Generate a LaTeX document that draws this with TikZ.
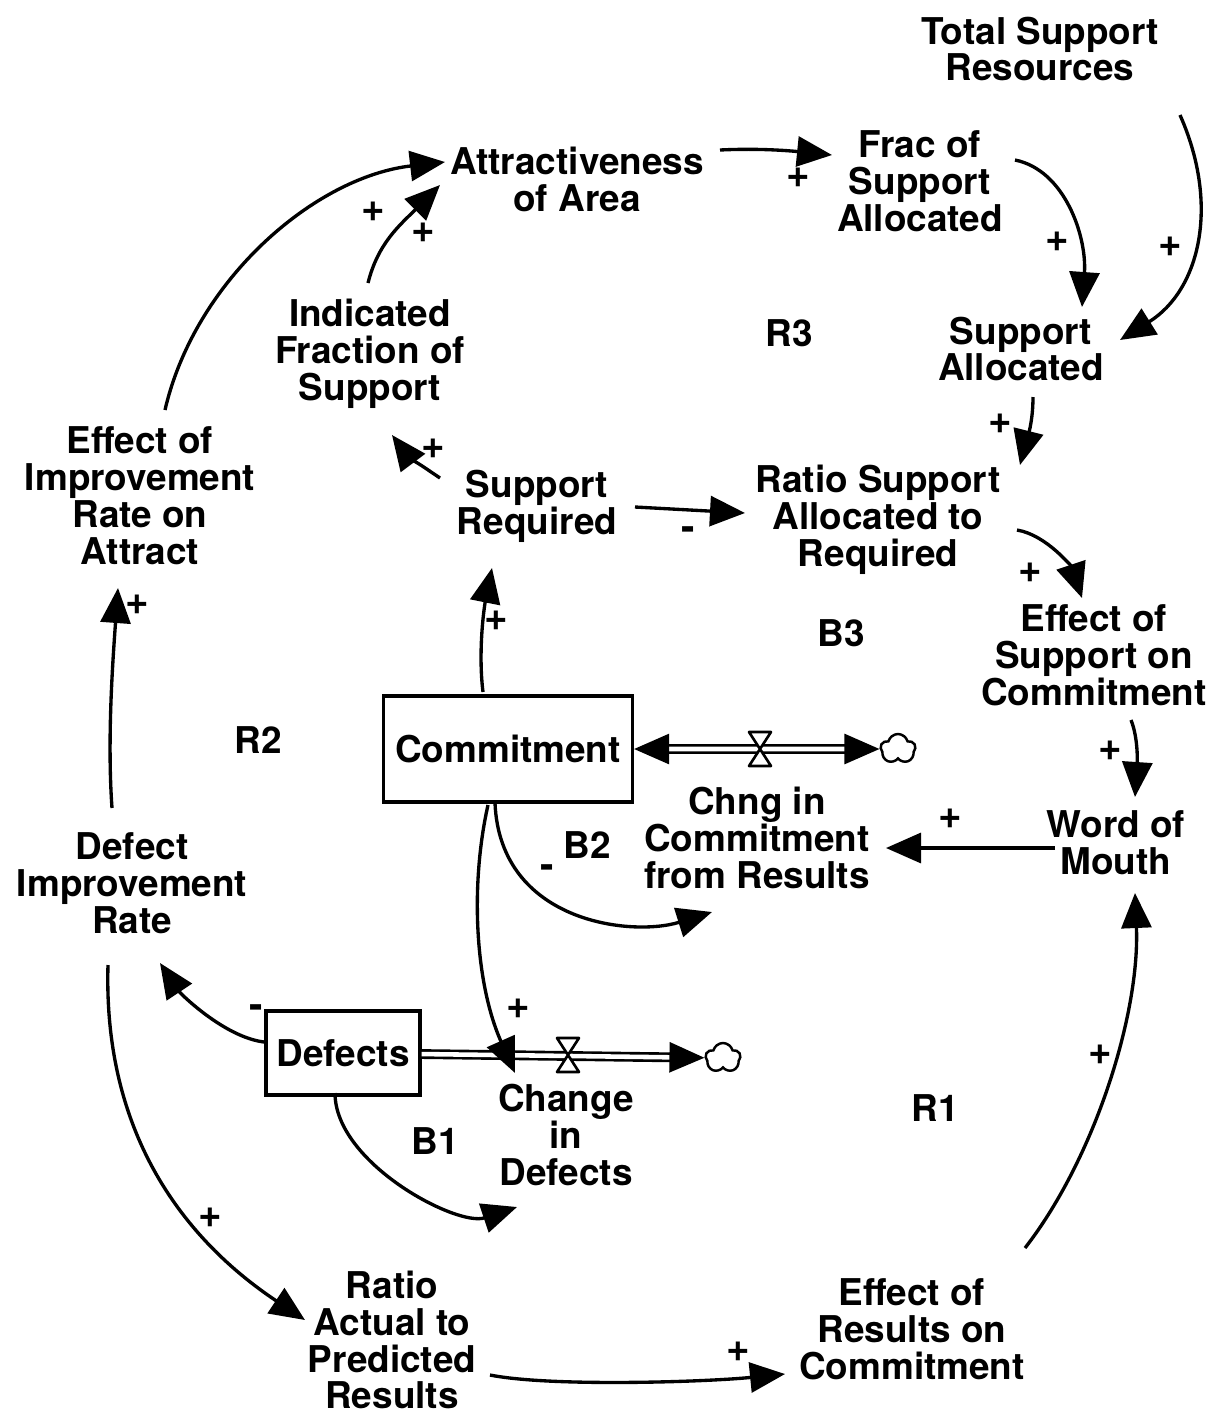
\documentclass[tikz,border=0pt]{standalone}
\usepackage{fontspec}
\setmainfont{TeX Gyre Heros}
\usetikzlibrary{arrows.meta,shapes.symbols}

\begin{document}
\begin{tikzpicture}[
  x=0.2mm, y=0.2mm,
  every node/.style={font=\fontsize{21}{21}\selectfont\bfseries},
  var/.style    ={align=center, inner sep=0pt},
  stock/.style  ={draw, line width=1.8pt, inner sep=0pt},
  sign/.style   ={inner sep=0pt, font=\fontsize{23}{23}\selectfont\bfseries},
  looplbl/.style={inner sep=0pt},
  link/.style   ={-{Triangle[length=7mm,width=6mm]}, line width=1.9pt},
  pipe/.style   ={double, double distance=2.6pt, line width=1.5pt},
  sink/.style   ={cloud, cloud puffs=5, draw, line width=1.4pt,
                  minimum width=7mm, minimum height=6mm, inner sep=0pt},
  valve/.style  ={draw, fill=white, line width=1.5pt, line join=round},
]
  \useasboundingbox (0,0) rectangle (1212,-1417);

  \node[var] (tsr)  at (1040,-49)  {Total Support\\Resources};
  \node[var] (attr) at (577,-179)  {Attractiveness\\of Area};
  \node[var] (frac) at (920,-181)  {Frac of\\Support\\Allocated};
  \node[var] (ifs)  at (370,-354)  {Indicated\\Fraction of\\Support};
  \node[var] (sa)   at (1021,-349) {Support\\Allocated};
  \node[var] (eira) at (140,-496)  {Effect of\\Improvement\\Rate on\\Attract};
  \node[var] (sreq) at (537,-506)  {Support\\Required};
  \node[var] (rsar) at (878,-520)  {Ratio Support\\Allocated to\\Required};
  \node[var] (esc)  at (1094,-655) {Effect of\\Support on\\Commitment};
  \node[stock, minimum width=49.8mm, minimum height=21.2mm] (comm) at (508,-749) {Commitment};
  \node[var] (chng) at (757,-838)  {Chng in\\Commitment\\from Results};
  \node[var] (wom)  at (1116,-843) {Word of\\Mouth};
  \node[var] (dir)  at (132,-883)  {Defect\\Improvement\\Rate};
  \node[stock, minimum width=30.8mm, minimum height=16.8mm] (def) at (343,-1053) {Defects};
  \node[var] (cid)  at (566,-1135) {Change\\in\\Defects};
  \node[var] (rap)  at (392,-1340) {Ratio\\Actual to\\Predicted\\Results};
  \node[var] (erc)  at (912,-1329) {Effect of\\Results on\\Commitment};

  \node[looplbl] (r3) at (789,-333)  {R3};
  \node[looplbl] (b3) at (841,-633)  {B3};
  \node[looplbl] (r2) at (258,-740)  {R2};
  \node[looplbl] (b2) at (587,-845)  {B2};
  \node[looplbl] (b1) at (435,-1141) {B1};
  \node[looplbl] (r1) at (935,-1108) {R1};

  \node[sink] (cloudc) at (898,-749) {};
  \coordinate (valc) at (760,-749);
  \draw[pipe, {Triangle[length=7mm,width=6mm]}-{Triangle[length=7mm,width=6mm]}] (comm) -- (cloudc);
  \draw[valve] ([shift={(-11,17)}]valc) -- ([shift={(11,17)}]valc) -- ([shift={(-11,-17)}]valc) -- ([shift={(11,-17)}]valc) -- cycle;

  \node[sink] (cloudd) at (723,-1058) {};
  \coordinate (vald) at (568,-1055);
  \draw[pipe, -{Triangle[length=7mm,width=6mm]}] (def) -- (cloudd);
  \draw[valve] ([shift={(-11,17)}]vald) -- ([shift={(11,17)}]vald) -- ([shift={(-11,-17)}]vald) -- ([shift={(11,-17)}]vald) -- cycle;

  \draw[link] ([shift={(140,-66)}]tsr.center) .. controls +(40,-90) and +(80,50) .. ([shift={(99,9)}]sa.center);
  \draw[link] ([shift={(95,21)}]frac.center) .. controls +(50,-10) and +(5,70) .. ([shift={(61,42)}]sa.center);
  \draw[link] ([shift={(143,29)}]attr.center) .. controls +(40,2) and +(-40,4) .. ([shift={(-88,26)}]frac.center);
  \draw[link] ([shift={(25,86)}]eira.center) .. controls +(30,130) and +(-130,-15) .. ([shift={(-132,17)}]attr.center);
  \draw[link] ([shift={(-2,71)}]ifs.center) .. controls +(10,40) and +(-40,-40) .. ([shift={(-137,-6)}]attr.center);
  \draw[link] ([shift={(-97,28)}]sreq.center) .. controls +(-15,10) and +(15,-20) .. ([shift={(22,-81)}]ifs.center);
  \draw[link] ([shift={(98,-1)}]sreq.center) -- ([shift={(-133,7)}]rsar.center);
  \draw[link] ([shift={(12,-48)}]sa.center) .. controls +(0,-30) and +(5,20) .. ([shift={(142,55)}]rsar.center);
  \draw[link] ([shift={(139,-10)}]rsar.center) .. controls +(30,-5) and +(-10,30) .. ([shift={(-12,57)}]esc.center);
  \draw[link] ([shift={(37,-65)}]esc.center) .. controls +(8,-20) and +(2,30) .. ([shift={(19,46)}]wom.center);
  \draw[link] ([shift={(-61,-5)}]wom.center) -- ([shift={(129,-10)}]chng.center);
  \draw[link] ([shift={(-25,57)}]comm.center) .. controls +(-5,40) and +(-8,-40) .. ([shift={(-45,-62)}]sreq.center);
  \draw[link] ([shift={(-13,-54)}]comm.center) .. controls +(5,-120) and +(-80,-25) .. ([shift={(-45,-74)}]chng.center);
  \draw[link] ([shift={(-20,-56)}]comm.center) .. controls +(-18,-80) and +(-40,90) .. ([shift={(-51,62)}]cid.center);
  \draw[link] ([shift={(-79,11)}]def.center) .. controls +(-40,5) and +(20,-30) .. ([shift={(28,-80)}]dir.center);
  \draw[link] ([shift={(-8,-40)}]def.center) .. controls +(0,-70) and +(-60,-20) .. ([shift={(-49,-72)}]cid.center);
  \draw[link] ([shift={(-20,75)}]dir.center) .. controls +(-5,70) and +(-5,-70) .. ([shift={(-22,-92)}]eira.center);
  \draw[link] ([shift={(-24,-82)}]dir.center) .. controls +(-5,-170) and +(-120,80) .. ([shift={(-87,20)}]rap.center);
  \draw[link] ([shift={(98,-35)}]rap.center) .. controls +(60,-12) and +(-80,-8) .. ([shift={(-127,-45)}]erc.center);
  \draw[link] ([shift={(113,81)}]erc.center) .. controls +(70,90) and +(5,-120) .. ([shift={(19,-50)}]wom.center);

  \node[sign] (s1)  at (1170,-247) {+};
  \node[sign] (s2)  at (1057,-242) {+};
  \node[sign] (s3)  at (798,-178)  {+};
  \node[sign] (s4)  at (373,-212)  {+};
  \node[sign] (s5)  at (423,-233)  {+};
  \node[sign] (s6)  at (433,-449)  {+};
  \node[sign] (s7)  at (688,-534)  {-};
  \node[sign] (s8)  at (1000,-424) {+};
  \node[sign] (s9)  at (1030,-573) {+};
  \node[sign] (s10) at (1110,-751) {+};
  \node[sign] (s11) at (950,-819)  {+};
  \node[sign] (s12) at (496,-621)  {+};
  \node[sign] (s13) at (547,-872)  {-};
  \node[sign] (s14) at (518,-1009) {+};
  \node[sign] (s15) at (256,-1012) {-};
  \node[sign] (s16) at (137,-605)  {+};
  \node[sign] (s17) at (210,-1218) {+};
  \node[sign] (s18) at (738,-1352) {+};
  \node[sign] (s19) at (1100,-1055) {+};
\end{tikzpicture}
\end{document}
